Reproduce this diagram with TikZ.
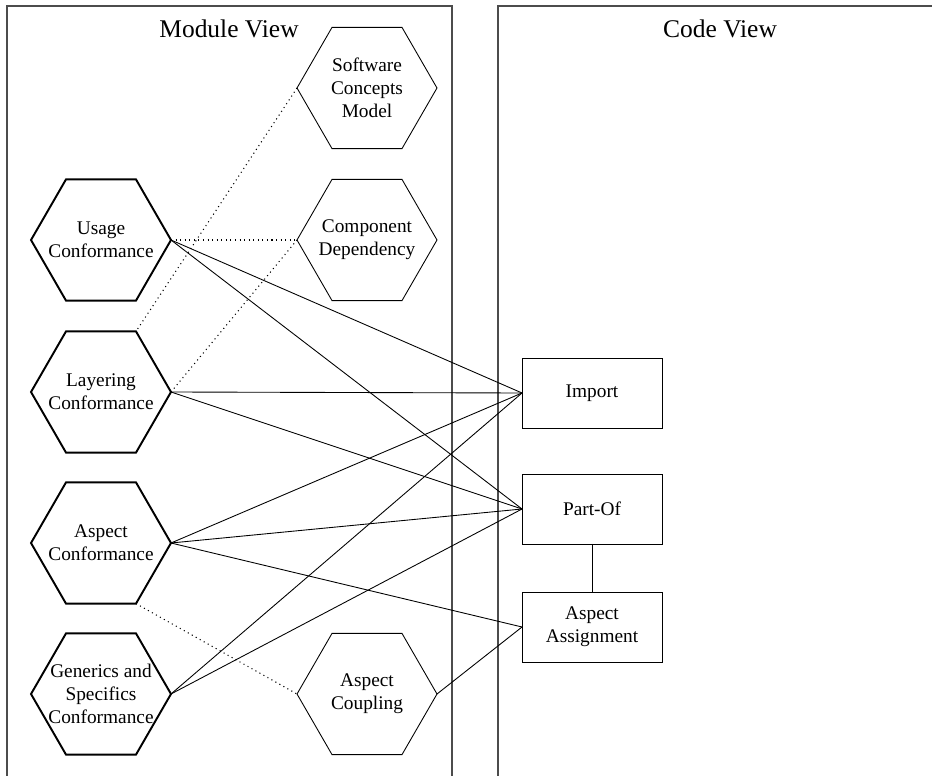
\documentclass[tikz,border=0pt]{standalone}
\usepackage{fontspec}
\setmainfont{Liberation Serif}
\usetikzlibrary{shapes.geometric}

\begin{document}
\begin{tikzpicture}[x=0.02cm,y=-0.02cm]
\tikzstyle{concept} = [regular polygon, regular polygon sides=6, minimum size=2.8cm, inner sep=0pt, outer sep=0pt, draw=black, line width=1.1pt]
\tikzstyle{aux} = [concept, line width=0.5pt]
\tikzstyle{hexlabel} = [align=center, font=\fontsize{11}{13}\selectfont]
\tikzstyle{relation} = [rectangle, minimum width=2.8cm, minimum height=1.4cm, inner sep=0pt, outer sep=0pt, draw=black, line width=0.5pt, align=center, font=\fontsize{11}{13}\selectfont]
\tikzstyle{panel} = [draw=black!70, line width=0.7pt]
\tikzstyle{link} = [line width=0.5pt]
\tikzstyle{weak} = [line width=0.6pt, dotted]

\useasboundingbox (0,0) rectangle (932,776);
\clip (0,0) rectangle (932,776);

% the two views
\draw [panel] (7,6) rectangle (452,800);
\draw [panel] (498,6) rectangle (960,800);
\node (modview) at (229,29) {\fontsize{14.5}{16}\selectfont Module View};
\node (codeview) at (720,29) {\fontsize{14.5}{16}\selectfont Code View};

% conformance checks
\node (usage) [concept, label={[hexlabel]center:Usage\\Conformance}] at (101,240) {};
\node (layer) [concept, label={[hexlabel]center:Layering\\Conformance}] at (101,392) {};
\node (aspect) [concept, label={[hexlabel]center:Aspect\\Conformance}] at (101,543) {};
\node (generic) [concept, label={[hexlabel]center:Generics and\\Specifics\\Conformance}] at (101,694) {};

% supporting models
\node (scm) [aux, label={[hexlabel]center:Software\\Concepts\\Model}] at (367,88) {};
\node (compdep) [aux, label={[hexlabel]center:Component\\Dependency}] at (367,240) {};
\node (coupling) [aux, label={[hexlabel]center:Aspect\\Coupling}] at (367,694) {};

% code relations
\node (import) [relation] at (592,393) {Import};
\node (partof) [relation] at (592,509) {Part-Of};
\node (assign) [relation] at (592,627) {Aspect\\Assignment};

\draw [weak] (usage.east) -- (compdep.west);
\draw [weak] (scm.west) -- (layer.60);
\draw [weak] (compdep.west) -- (layer.east);
\draw [weak] (aspect.-60) -- (coupling.west);

\draw [link] (usage.east) -- (import.west);
\draw [link] (usage.east) -- (partof.west);
\draw [link] (layer.east) -- (import.west);
\draw [link] (layer.east) -- (partof.west);
\draw [link] (aspect.east) -- (import.west);
\draw [link] (aspect.east) -- (partof.west);
\draw [link] (aspect.east) -- (assign.west);
\draw [link] (generic.east) -- (import.west);
\draw [link] (generic.east) -- (partof.west);
\draw [link] (coupling.east) -- (assign.west);
\draw [link] (partof) -- (assign);
\end{tikzpicture}
\end{document}
